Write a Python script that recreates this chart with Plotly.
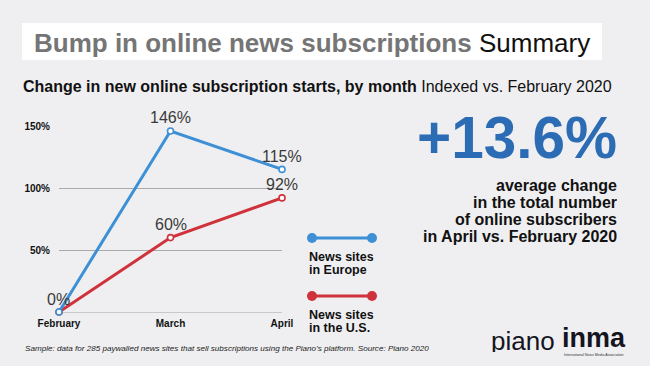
import plotly.graph_objects as go

# ---- data ----
months = ["February", "March", "April"]
europe = [0, 146, 115]
us = [0, 60, 92]
y_ticks = [50, 100, 150]
y_tick_labels = ["50%", "100%", "150%"]
series_names = [["News sites", "in Europe"], ["News sites", "in the U.S."]]
headline_value = "+13.6%"
headline_lines = ["average change", "in the total number",
                  "of online subscribers", "in April vs. February 2020"]

W, H = 650, 366
FONT = "Liberation Sans, Arial, Helvetica, sans-serif"
BLUE = "#3d8fd6"
RED = "#cf323a"
BIG_BLUE = "#2c6cb4"
BG = "#efeff1"


def px(x):
    return x / W


def py(y):
    return 1 - y / H


def label(x, y, text, size, color="#111111", anchor="left", height=None, **kw):
    d = dict(x=px(x), y=py(y), xref="paper", yref="paper", xanchor=anchor,
             yanchor="middle", text=text, showarrow=False, align=anchor,
             font=dict(family=FONT, size=size, color=color))
    if height is not None:
        d["height"] = height
    d.update(kw)
    return d


fig = go.Figure()

for vals, col in [(us, RED), (europe, BLUE)]:
    fig.add_trace(go.Scatter(
        x=months, y=vals, mode="lines+markers",
        line=dict(color=col, width=3),
        marker=dict(size=6, color="white", line=dict(color=col, width=1.6)),
        cliponaxis=False, hoverinfo="skip", showlegend=False,
    ))

annotations = []
# data labels
for vals in (europe, us):
    for m, v in zip(months, vals):
        if m == "February" and vals is us:
            continue
        annotations.append(dict(
            x=m, y=v, xref="x", yref="y", text=f"{v}%", showarrow=False,
            yshift=13, xshift=-1 if m == "February" else 0,
            font=dict(family=FONT, size=16, color="#3a3a3a"),
            xanchor="center", yanchor="middle"))

# title + subtitle
annotations.append(label(32, 43, "<span style='color:#757575'><b>Bump in online news subscriptions</b></span> Summary", 26))
annotations.append(label(21, 87, "<b>Change in new online subscription starts, by month</b> Indexed vs. February 2020", 16))
# headline figure
annotations.append(label(619, 137, f"<b>{headline_value}</b>", 58.5, BIG_BLUE, anchor="right"))
for i, line in enumerate(headline_lines):
    annotations.append(label(619, 185.5 + 17 * i, f"<b>{line}</b>", 16, anchor="right", height=17))

# custom legend
shapes = [dict(type="rect", xref="paper", yref="paper", layer="below",
               x0=px(22), x1=px(602), y0=py(23), y1=py(60),
               fillcolor="white", line=dict(width=0))]
for ly, col, name in [(238, BLUE, series_names[0]), (296, RED, series_names[1])]:
    shapes.append(dict(type="line", xref="paper", yref="paper",
                       x0=px(312), x1=px(372), y0=py(ly), y1=py(ly),
                       line=dict(color=col, width=3)))
    for cx in (312, 372):
        shapes.append(dict(type="circle", xref="paper", yref="paper",
                           x0=px(cx - 5), x1=px(cx + 5), y0=py(ly + 5), y1=py(ly - 5),
                           fillcolor=col, line=dict(color=col, width=0)))
    for j, part in enumerate(name):
        annotations.append(label(307, ly + 18 + 13 * j, f"<b>{part}</b>", 12.5, height=13))

# footer
annotations.append(label(23, 348, "<i>Sample: data for 285 paywalled news sites that sell subscriptions using the Piano’s platform. Source: Piano 2020</i>", 8.1, "#222222"))
# logos as text
annotations.append(label(489, 341, "piano", 26, "#15151f", height=22))
annotations.append(label(560, 338, "<b>inma</b>", 27, "#15151f", height=26))
annotations.append(label(562, 354.5, "International News Media Association", 3.6, "#333333", height=4))

fig.update_layout(
    width=W, height=H, margin=dict(l=0, r=0, t=0, b=0, autoexpand=False),
    paper_bgcolor=BG, plot_bgcolor=BG,
    annotations=annotations, shapes=shapes,
    xaxis=dict(domain=[px(59), px(282)], range=[0, 2], type="category",
               automargin=False,
               showgrid=False, zeroline=False, showline=False, ticks="",
               ticklabelstandoff=4,
               tickfont=dict(family=FONT, size=10, color="#111111", weight="bold")),
    yaxis=dict(domain=[py(312), py(126)], range=[0, 150], automargin=False,
               tickvals=y_ticks, ticktext=y_tick_labels,
               showgrid=True, gridcolor="#aaaaaa", gridwidth=1,
               zeroline=True, zerolinecolor="#c9c9c9", zerolinewidth=1,
               showline=False, ticks="", ticklabelstandoff=8,
               tickfont=dict(family=FONT, size=10, color="#111111", weight="bold")),
)

fig.write_html("out.html", config={"displayModeBar": False},
               post_script="document.body.style.margin='0';")
